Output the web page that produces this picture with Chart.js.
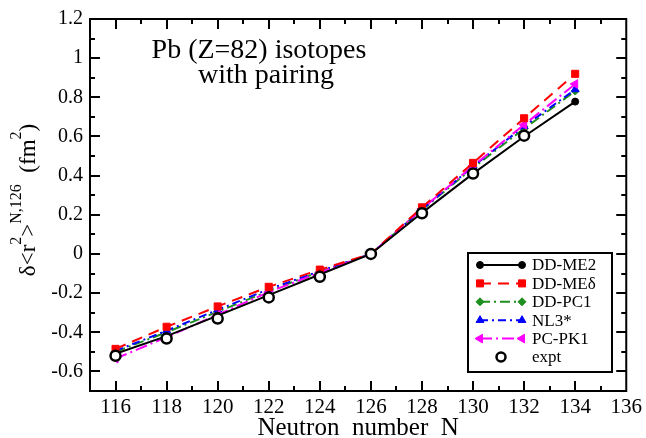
<!DOCTYPE html>
<html>
<head>
<meta charset="utf-8">
<script src="https://cdn.jsdelivr.net/npm/chart.js"></script>
<style>
  html, body { margin: 0; padding: 0; background: #fff; }
</style>
</head>
<body>
<canvas id="chart" width="646" height="438"></canvas>
<script>
var neutronN = [116, 118, 120, 122, 124, 126, 128, 130, 132, 134];
var ddme2 = [-0.51, -0.42, -0.315, -0.21, -0.105, 0, 0.21, 0.41, 0.60, 0.778];
var ddmeDelta = [-0.485, -0.372, -0.268, -0.168, -0.08, 0, 0.238, 0.465, 0.693, 0.92];
var ddpc1 = [-0.50, -0.40, -0.295, -0.19, -0.09, 0, 0.225, 0.44, 0.64, 0.832];
var nl3star = [-0.495, -0.392, -0.285, -0.18, -0.088, 0, 0.228, 0.447, 0.652, 0.84];
var pcpk1 = [-0.535, -0.425, -0.31, -0.195, -0.095, 0, 0.23, 0.45, 0.66, 0.868];
var exptN = [116, 118, 120, 122, 124, 126, 128, 130, 132];
var expt = [-0.52, -0.432, -0.33, -0.222, -0.117, 0, 0.208, 0.411, 0.604];

var xTicks = [116, 118, 120, 122, 124, 126, 128, 130, 132, 134, 136];
var yTicks = [-0.6, -0.4, -0.2, 0, 0.2, 0.4, 0.6, 0.8, 1, 1.2];
var yTickLabels = ['-0.6', '-0.4', '-0.2', '0', '0.2', '0.4', '0.6', '0.8', '1', '1.2'];

var SERIF = '"Liberation Serif", "DejaVu Serif", serif';

function pts(xs, ys) {
    return xs.map(function(x, i) { return {x: x, y: ys[i]}; });
}

function series(label, data, color, dash, style, radius, rotation, order) {
    return {
        label: label,
        data: pts(neutronN, data),
        borderColor: color,
        backgroundColor: color,
        borderWidth: 2,
        borderDash: dash,
        pointStyle: style,
        pointRadius: radius,
        pointRotation: rotation,
        pointBorderWidth: 1,
        pointBackgroundColor: color,
        pointBorderColor: color,
        showLine: true,
        tension: 0,
        order: order
    };
}

var datasets = [
    series('DD-ME2', ddme2, '#000000', [], 'circle', 3.5, 0, 1),
    series('DD-MEδ', ddmeDelta, '#ff0000', [11, 7], 'rect', 5, 0, 2),
    series('DD-PC1', ddpc1, '#1f8f1f', [10, 4, 2, 4], 'rectRot', 4, 0, 5),
    series('NL3*', nl3star, '#0000ff', [8, 4, 2, 4], 'triangle', 4.5, 0, 4),
    series('PC-PK1', pcpk1, '#ff00ff', [12, 4, 2, 4], 'triangle', 5, -90, 3),
    {
        label: 'expt',
        data: pts(exptN, expt),
        showLine: false,
        borderColor: '#000000',
        backgroundColor: '#ffffff',
        pointStyle: 'circle',
        pointRadius: 5,
        pointBorderWidth: 2.5,
        pointBackgroundColor: '#ffffff',
        pointBorderColor: '#000000',
        order: 0
    }
];

// frame, inward ticks on all four sides, legend box and titles
var decor = {
    id: 'decor',
    afterDraw: function(chart) {
        var ctx = chart.ctx, a = chart.chartArea;
        var xs = chart.scales.x, ys = chart.scales.y;
        ctx.save();
        ctx.strokeStyle = '#000';
        ctx.lineWidth = 2;
        ctx.strokeRect(a.left, a.top, a.right - a.left, a.bottom - a.top);

        ctx.beginPath();
        var v, p, len;
        for (v = 116; v <= 135; v += 1) {
            p = Math.round(xs.getPixelForValue(v));
            len = (v % 2 === 0) ? 10 : 5;
            ctx.moveTo(p, a.bottom); ctx.lineTo(p, a.bottom - len);
            ctx.moveTo(p, a.top); ctx.lineTo(p, a.top + len);
        }
        for (var k = -6; k <= 11; k++) {
            v = k / 10;
            p = Math.round(ys.getPixelForValue(v));
            len = (k % 2 === 0) ? 10 : 5;
            ctx.moveTo(a.left, p); ctx.lineTo(a.left + len, p);
            ctx.moveTo(a.right, p); ctx.lineTo(a.right - len, p);
        }
        ctx.stroke();

        // legend
        var bx = 468, by = 253, bw = 144, bh = 119;
        ctx.fillStyle = '#fff';
        ctx.fillRect(bx, by, bw, bh);
        ctx.lineWidth = 2;
        ctx.strokeStyle = '#000';
        ctx.strokeRect(bx, by, bw, bh);
        ctx.font = '17px ' + SERIF;
        ctx.textBaseline = 'middle';
        chart.data.datasets.forEach(function(ds, i) {
            var y = 265 + i * 18.4, x0 = 480, x1 = 522;
            var mk = {
                pointStyle: ds.pointStyle, rotation: ds.pointRotation || 0,
                radius: ds.pointRadius, borderWidth: ds.pointBorderWidth
            };
            if (ds.showLine) {
                ctx.save();
                ctx.strokeStyle = ds.borderColor;
                ctx.lineWidth = 2;
                ctx.setLineDash(ds.borderDash);
                ctx.beginPath(); ctx.moveTo(x0, y); ctx.lineTo(x1, y); ctx.stroke();
                ctx.restore();
            }
            ctx.save();
            ctx.fillStyle = ds.pointBackgroundColor;
            ctx.strokeStyle = ds.pointBorderColor;
            ctx.lineWidth = ds.pointBorderWidth;
            ctx.setLineDash([]);
            if (ds.showLine) {
                Chart.helpers.drawPoint(ctx, mk, x0, y);
                Chart.helpers.drawPoint(ctx, mk, x1, y);
            } else {
                mk.radius = 4.5;
                Chart.helpers.drawPoint(ctx, mk, (x0 + x1) / 2, y);
            }
            ctx.restore();
            ctx.fillStyle = '#000';
            ctx.fillText(ds.label, 532, y + 1);
        });

        // plot annotation
        ctx.font = '28px ' + SERIF;
        ctx.textAlign = 'center';
        ctx.textBaseline = 'alphabetic';
        ctx.fillText('Pb (Z=82) isotopes', 259, 58);
        ctx.fillText('with pairing', 266, 83);

        // x axis title
        ctx.font = '25px ' + SERIF;
        ctx.fillText('Neutron  number  N', (a.left + a.right) / 2, 435);

        // y axis title with superscripts
        var parts = [['δ<r', 0], ['2', 1], ['>', 0], ['N,126', 1], ['  (fm', 0], ['2', 1], [')', 0]];
        var big = '23px ' + SERIF, small = '16px ' + SERIF, total = 0;
        parts.forEach(function(q) { ctx.font = q[1] ? small : big; total += ctx.measureText(q[0]).width; });
        ctx.translate(35, 200 + total / 2);
        ctx.rotate(-Math.PI / 2);
        ctx.textAlign = 'left';
        var cx = 0;
        parts.forEach(function(q) {
            ctx.font = q[1] ? small : big;
            ctx.fillText(q[0], cx, q[1] ? -14 : 0);
            cx += ctx.measureText(q[0]).width;
        });
        ctx.restore();
    }
};

new Chart(document.getElementById('chart'), {
    type: 'line',
    data: {datasets: datasets},
    options: {
        responsive: false,
        animation: false,
        layout: {padding: {top: 16, right: 19, left: 0, bottom: 0}},
        plugins: {legend: {display: false}, tooltip: {enabled: false}},
        scales: {
            x: {
                type: 'linear', min: 115, max: 136,
                grid: {display: false, drawTicks: false},
                border: {display: false},
                afterBuildTicks: function(s) { s.ticks = xTicks.map(function(v) { return {value: v}; }); },
                afterFit: function(s) { s.height = 47; },
                ticks: {
                    color: '#000', padding: 4, maxRotation: 0, autoSkip: false,
                    font: {family: SERIF, size: 21}
                }
            },
            y: {
                type: 'linear', min: -0.7, max: 1.2,
                grid: {display: false, drawTicks: false},
                border: {display: false},
                afterBuildTicks: function(s) { s.ticks = yTicks.map(function(v) { return {value: v}; }); },
                afterFit: function(s) { s.width = 90; },
                ticks: {
                    color: '#000', padding: 7, autoSkip: false,
                    font: {family: SERIF, size: 20},
                    callback: function(v, i) { return yTickLabels[i]; }
                }
            }
        }
    },
    plugins: [decor]
});
</script>
</body>
</html>
